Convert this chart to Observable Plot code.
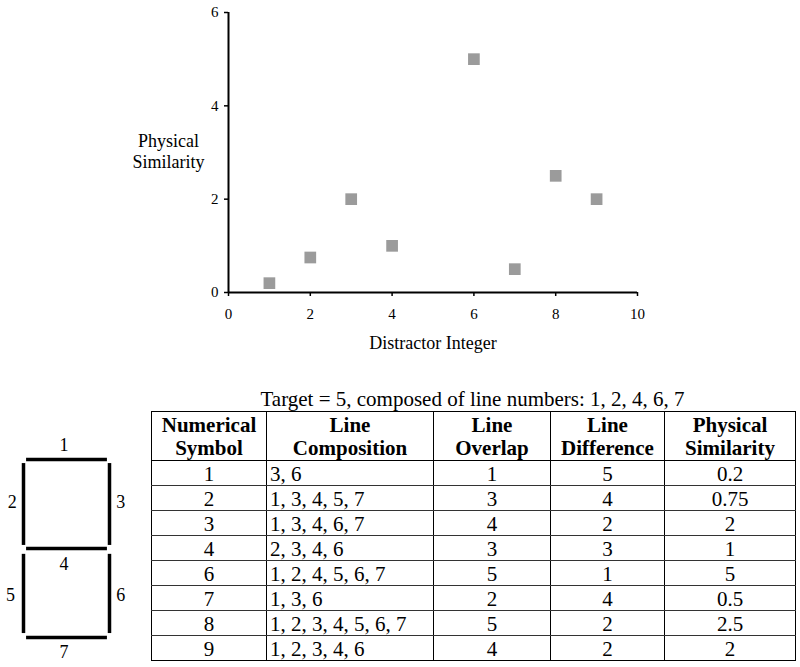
<!DOCTYPE html>
<html>
<head>
<meta charset="utf-8">
<script src="https://cdn.jsdelivr.net/npm/d3@7"></script>
<script src="https://cdn.jsdelivr.net/npm/@observablehq/plot@0.6"></script>
<style>
  html, body { margin: 0; padding: 0; background: #fff; }
  #wrap { position: relative; width: 800px; height: 667px; overflow: hidden; font-family: "Liberation Serif", "Times New Roman", serif; color: #000; }
  #scatter { position: absolute; left: 0; top: 0; }
  #digit { position: absolute; left: 0; top: 430px; }
  #title { position: absolute; left: 151px; width: 643px; top: 387px; height: 24px; line-height: 24px; font-size: 21px; text-align: center; white-space: nowrap; }
  #tbl { position: absolute; left: 151px; top: 411px; width: 644px; border-collapse: collapse; table-layout: fixed; font-size: 21px; }
  #tbl th, #tbl td { border-left: 1.5px solid #000; border-right: 1.5px solid #000; text-align: center; }
  #tbl th { font-weight: bold; line-height: 23px; height: 46px; padding: 2px 0 0 0; white-space: pre-line; vertical-align: middle; border-top: 1.5px solid #000; border-bottom: 1.5px solid #000; }
  #tbl td { height: 22px; line-height: 22px; padding: 2px 0 0 0; border-bottom: 1px solid #333; vertical-align: middle; white-space: nowrap; }
  #tbl tr:last-child td { border-bottom: 1.5px solid #000; }
  #tbl td.left { text-align: left; padding-left: 3px; }
</style>
</head>
<body>
<div id="wrap">
  <div id="scatter"></div>
  <div id="digit"></div>
  <div id="title"></div>
  <table id="tbl"></table>
</div>
<script>
// ---- data ----
const symbols = [1, 2, 3, 4, 6, 7, 8, 9];
const composition = ["3, 6", "1, 3, 4, 5, 7", "1, 3, 4, 6, 7", "2, 3, 4, 6", "1, 2, 4, 5, 6, 7", "1, 3, 6", "1, 2, 3, 4, 5, 6, 7", "1, 2, 3, 4, 6"];
const overlap = [1, 3, 4, 3, 5, 2, 5, 4];
const difference = [5, 4, 2, 3, 1, 4, 2, 2];
const similarity = [0.2, 0.75, 2, 1, 5, 0.5, 2.5, 2];
const headers = ["Numerical\nSymbol", "Line\nComposition", "Line\nOverlap", "Line\nDifference", "Physical\nSimilarity"];
const tableTitle = "Target = 5, composed of line numbers: 1, 2, 4, 6, 7";
const xTicks = [0, 2, 4, 6, 8, 10];
const yTicks = [0, 2, 4, 6];
const xLabel = "Distractor Integer";
const yLabel = "Physical\nSimilarity";

// seven-segment diagram in abstract units (x: 0..1, y: 0..2 downward)
const segNames = ["1", "2", "3", "4", "5", "6", "7"];
const segX1 = [0.03, 0, 1, 0.03, 0, 1, 0.03];
const segY1 = [0, 0.04, 0.04, 1, 1.06, 1.06, 2];
const segX2 = [0.97, 0, 1, 0.97, 0, 1, 0.97];
const segY2 = [0, 0.96, 0.96, 1, 1.95, 1.95, 2];
const labX = [0.47, -0.13, 1.13, 0.47, -0.15, 1.13, 0.47];
const labY = [-0.16, 0.48, 0.48, 1.18, 1.53, 1.53, 2.17];

// ---- scatter ----
const points = symbols.map((s, i) => ({x: s, y: similarity[i]}));
const font = "Liberation Serif";
const scatter = Plot.plot({
  width: 800,
  height: 365,
  marginLeft: 228,
  marginRight: 163,
  marginTop: 12,
  marginBottom: 73,
  style: {fontFamily: font, fontSize: "15px", color: "#000", background: "#fff"},
  x: {domain: [0, 10]},
  y: {domain: [0, 6]},
  marks: [
    Plot.axisX({ticks: xTicks, tickFormat: d => String(d), tickSize: 4, tickPadding: 12, fontSize: 15, strokeWidth: 1.5, label: null}),
    Plot.axisY({ticks: yTicks, tickFormat: d => String(d), tickSize: 4, tickPadding: 6, fontSize: 15, strokeWidth: 1.5, label: null}),
    Plot.ruleX([0], {stroke: "#000", strokeWidth: 2}),
    Plot.ruleY([0], {stroke: "#000", strokeWidth: 2}),
    Plot.dot(points, {x: "x", y: "y", symbol: "square", r: 6.6, fill: "#9b9b9b", stroke: "none"}),
    Plot.text([yLabel], {text: d => d, frameAnchor: "left", dx: -60, dy: -2, textAnchor: "middle", fontSize: 18, lineHeight: 1.17, fill: "#000"}),
    Plot.text([xLabel], {text: d => d, frameAnchor: "bottom", dy: 56, fontSize: 18, fill: "#000"})
  ]
});
document.getElementById("scatter").appendChild(scatter);

// ---- seven-segment diagram ----
const segs = segNames.map((n, i) => ({n, x1: segX1[i], y1: segY1[i], x2: segX2[i], y2: segY2[i]}));
const labs = segNames.map((n, i) => ({n, x: labX[i], y: labY[i]}));
const digit = Plot.plot({
  width: 140,
  height: 237,
  marginLeft: 23,
  marginRight: 31,
  marginTop: 29,
  marginBottom: 30,
  style: {fontFamily: font, color: "#000", background: "transparent"},
  x: {domain: [0, 1], axis: null},
  y: {domain: [0, 2], reverse: true, axis: null},
  marks: [
    Plot.link(segs, {x1: "x1", y1: "y1", x2: "x2", y2: "y2", stroke: "#000", strokeWidth: 3.5, strokeLinecap: "butt"}),
    Plot.text(labs, {x: "x", y: "y", text: "n", fontSize: 18, fill: "#000"})
  ]
});
document.getElementById("digit").appendChild(digit);

// ---- table ----
document.getElementById("title").textContent = tableTitle;
const tbl = d3.select("#tbl");
const widths = [115, 167, 117, 114, 131];
tbl.append("colgroup").selectAll("col").data(widths).join("col").style("width", d => d + "px");
tbl.append("thead").append("tr").selectAll("th").data(headers).join("th").text(d => d);
const rows = symbols.map((s, i) => [s, composition[i], overlap[i], difference[i], similarity[i]]);
tbl.append("tbody").selectAll("tr").data(rows).join("tr")
  .selectAll("td").data(d => d).join("td")
  .attr("class", (d, i) => i === 1 ? "left" : null)
  .text(d => d);
</script>
</body>
</html>
